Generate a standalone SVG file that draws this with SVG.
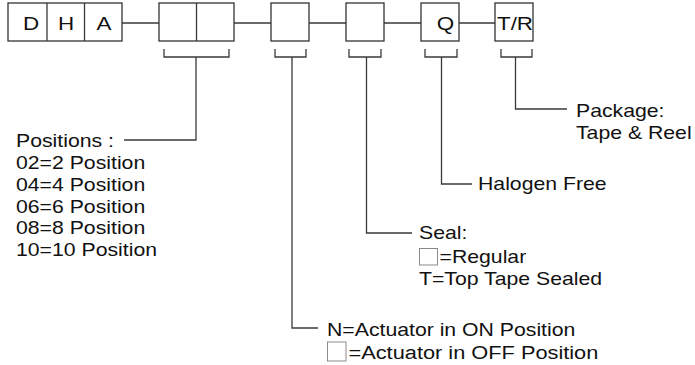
<svg xmlns="http://www.w3.org/2000/svg" width="695" height="365" viewBox="0 0 695 365">
<style>
  .box { fill: #ffffff; stroke: #333333; stroke-width: 1.3; }
  .ln { fill: none; stroke: #3a3a3a; stroke-width: 1.3; }
  .t { font-family: "Liberation Sans", Arial, sans-serif; font-size: 18px; fill: #111111; }
  .bt { font-family: "Liberation Sans", Arial, sans-serif; font-size: 19px; fill: #111111; text-anchor: middle; }
  .sq { fill: #ffffff; stroke: #8a8a8a; stroke-width: 1; }
</style>
<rect width="695" height="365" fill="#ffffff"/>

<g id="connectors">
  <path class="ln" d="M122 23H159 M234 23H271 M309 23H346 M384 23H421 M459 23H495"/>
  <path class="ln" d="M164 49V57H229V49 M196 57V140H124"/>
  <path class="ln" d="M275 49V57H306V49 M292 57V328H318"/>
  <path class="ln" d="M349 49V57H381V49 M366.5 57V233H412"/>
  <path class="ln" d="M425 49V57H457V49 M441.5 57V184H472"/>
  <path class="ln" d="M501 49V57H532V49 M515.5 57V109H567"/>
</g>

<g id="node-dha">
  <rect class="box" x="8" y="3" width="114" height="38"/>
  <path class="ln" d="M47 3V41 M84.5 3V41"/>
  <text class="bt" transform="translate(31 30) scale(1.18 1)">D</text>
  <text class="bt" transform="translate(66 30) scale(1.18 1)">H</text>
  <text class="bt" transform="translate(104 30) scale(1.18 1)">A</text>
</g>

<g id="node-positions">
  <rect class="box" x="159" y="3" width="75" height="38"/>
  <path class="ln" d="M196.5 3V41"/>
</g>

<g id="node-actuator">
  <rect class="box" x="271" y="3" width="38" height="38"/>
</g>

<g id="node-seal">
  <rect class="box" x="346" y="3" width="38" height="38"/>
</g>

<g id="node-q">
  <rect class="box" x="421" y="3" width="38" height="38"/>
  <text class="bt" transform="translate(445.5 30) scale(1.18 1)">Q</text>
</g>

<g id="node-tr">
  <rect class="box" x="495" y="3" width="38" height="38"/>
  <text class="bt" transform="translate(515 30) scale(1.18 1)">T/R</text>
</g>

<g id="label-positions">
  <text class="t" transform="translate(16 147) scale(1.18 1)">Positions :</text>
  <text class="t" transform="translate(16 169) scale(1.18 1)">02=2 Position</text>
  <text class="t" transform="translate(16 190.8) scale(1.18 1)">04=4 Position</text>
  <text class="t" transform="translate(16 212.6) scale(1.18 1)">06=6 Position</text>
  <text class="t" transform="translate(16 234.4) scale(1.18 1)">08=8 Position</text>
  <text class="t" transform="translate(16 256.2) scale(1.18 1)">10=10 Position</text>
</g>

<g id="label-package">
  <text class="t" transform="translate(576 117) scale(1.18 1)">Package:</text>
  <text class="t" transform="translate(576 139) scale(1.18 1)">Tape &amp; Reel</text>
</g>

<g id="label-halogen">
  <text class="t" transform="translate(478 190) scale(1.18 1)">Halogen Free</text>
</g>

<g id="label-seal">
  <text class="t" transform="translate(419 239) scale(1.18 1)">Seal:</text>
  <rect class="sq" x="419.5" y="248.5" width="18" height="16.5"/>
  <text class="t" transform="translate(439.5 263) scale(1.18 1)">=Regular</text>
  <text class="t" transform="translate(419 285) scale(1.18 1)">T=Top Tape Sealed</text>
</g>

<g id="label-actuator">
  <text class="t" transform="translate(327 336) scale(1.18 1)">N=Actuator in ON Position</text>
  <rect class="sq" x="327.5" y="342" width="18.5" height="19"/>
  <text class="t" transform="translate(348.5 358.5) scale(1.21 1)">=Actuator in OFF Position</text>
</g>
</svg>
